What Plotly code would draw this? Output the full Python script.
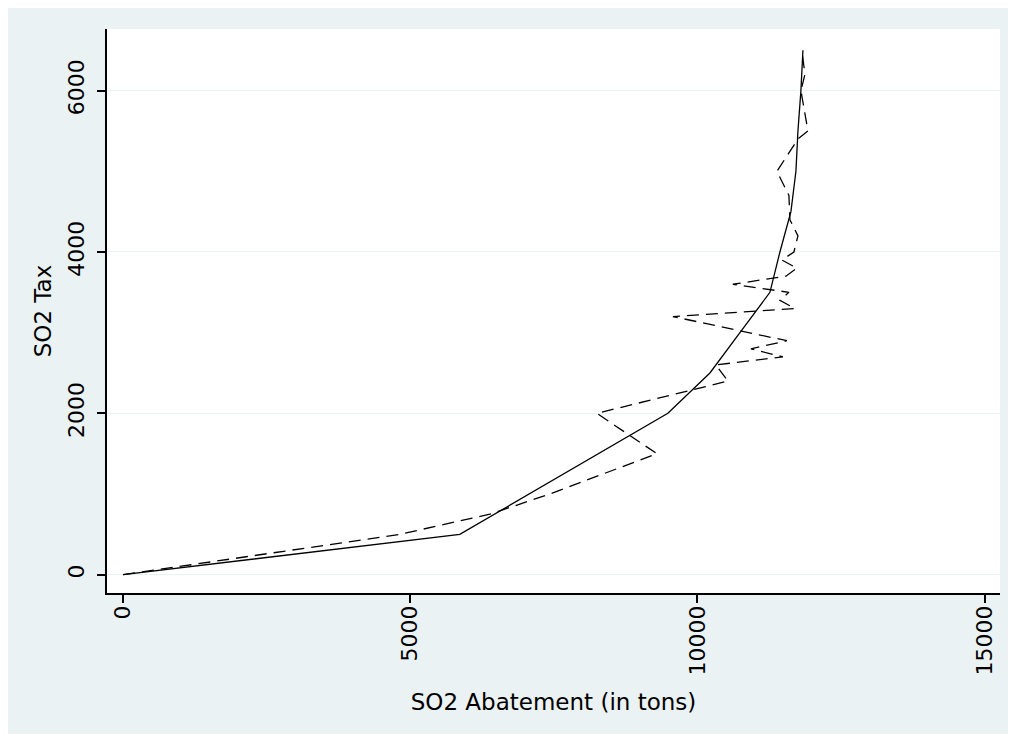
import plotly.graph_objects as go

# Solid line (fitted curve): SO2 tax vs abatement (tons)
solid_tax = [0, 500, 2000, 2500, 3000, 3500, 4000, 4500, 5000, 5500, 6000, 6500]
solid_abate = [0, 5862, 9486, 10218, 10741, 11263, 11437, 11629, 11716, 11751, 11803, 11838]

# Dashed line (observed): SO2 tax vs abatement (tons)
dash_tax = [0, 500, 750, 1000, 1500, 2000, 2400, 2600, 2700, 2800, 2900, 3200, 3300,
            3400, 3500, 3600, 3700, 3800, 3900, 4000, 4200, 4400, 4700, 5000, 5400,
            5500, 6000, 6200, 6500]
dash_abate = [0, 4817, 6385, 7430, 9294, 8249, 10531, 10322, 11490, 10932, 11559, 9573,
              11699, 11437, 11594, 10617, 11542, 11733, 11472, 11681, 11751, 11611,
              11594, 11385, 11751, 11925, 11803, 11873, 11820]

x_ticks = [0, 5000, 10000, 15000]
y_ticks = [0, 2000, 4000, 6000]

BG = "#EAF2F3"
FONT = "DejaVu Sans"

fig = go.Figure()
fig.add_trace(go.Scatter(x=dash_abate, y=dash_tax, mode="lines",
                         line=dict(color="black", width=1.3, dash="12px,7px"),
                         showlegend=False))
fig.add_trace(go.Scatter(x=solid_abate, y=solid_tax, mode="lines",
                         line=dict(color="black", width=1.3),
                         showlegend=False))

fig.update_layout(
    width=1000, height=726, autosize=False,
    margin=dict(l=99, r=8, t=21, b=141, pad=0),
    paper_bgcolor=BG, plot_bgcolor="white",
    font=dict(family=FONT, size=22, color="black"),
    xaxis=dict(range=[-282, 15270], tickvals=x_ticks, ticktext=[str(v) for v in x_ticks],
               tickangle=-90, ticks="outside", ticklen=8, tickwidth=1.5, tickcolor="black",
               showline=True, linecolor="black", linewidth=1.5, showgrid=False,
               zeroline=False, ticklabelstandoff=-6,
               title=dict(text="SO2 Abatement (in tons)", standoff=19,
                          font=dict(family=FONT, size=23))),
    yaxis=dict(range=[-227, 6764], tickvals=y_ticks, ticktext=[str(v) for v in y_ticks],
               tickangle=-90, ticks="outside", ticklen=8, tickwidth=1.5, tickcolor="black",
               showline=True, linecolor="black", linewidth=1.5, showgrid=True,
               gridcolor=BG, gridwidth=1.2, zeroline=False, ticklabelstandoff=4,
               title=dict(text="SO2 Tax", standoff=6,
                          font=dict(family=FONT, size=23))),
)

fig.write_html("out.html", config={"displayModeBar": False})
